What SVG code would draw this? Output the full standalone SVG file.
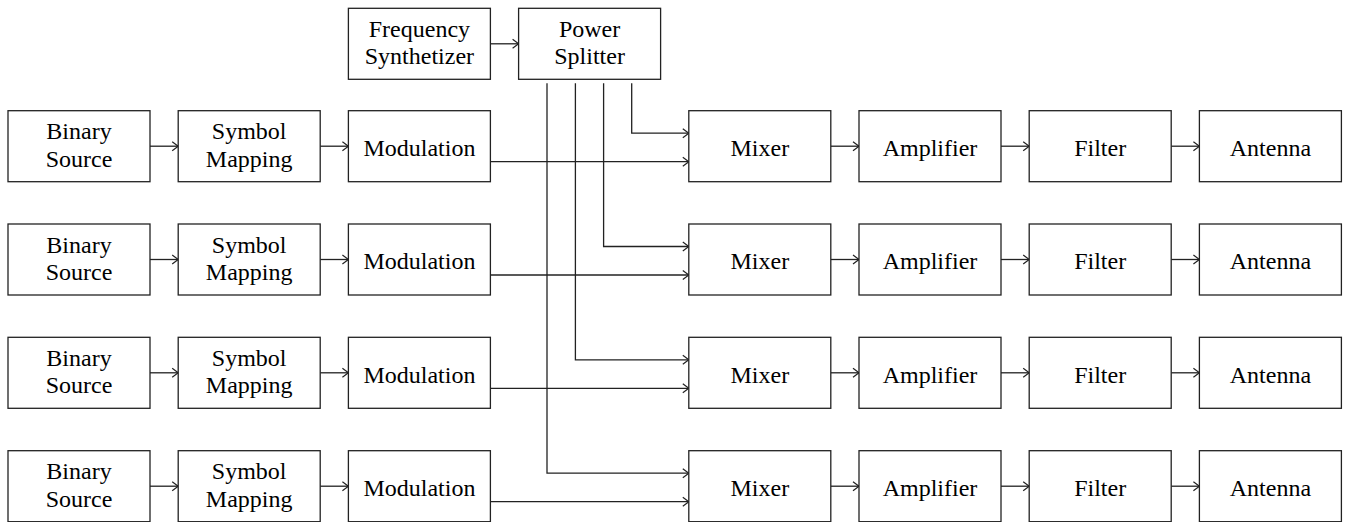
<svg xmlns="http://www.w3.org/2000/svg" width="1349" height="522" viewBox="0 0 1349 522">
<style>
.box{fill:#fff;stroke:#222;stroke-width:1.3}
.lbl{font-family:"Liberation Serif","Times New Roman",serif;font-size:24px;fill:#000;text-anchor:middle}
.c{fill:none;stroke:#222;stroke-width:1.3;marker-end:url(#ah)}
</style>
<defs>
<marker id="ah" markerUnits="userSpaceOnUse" markerWidth="12" markerHeight="12" viewBox="-7 -6 8 12" refX="0" refY="0" orient="auto">
<path d="M-6,-4.5 L0,0 L-6,4.5" fill="none" stroke="#222" stroke-width="1.2"/>
</marker>
</defs>
<rect width="1349" height="522" fill="#fff"/>
<g id="connectors">
<path class="c" d="M490.4,43.8 H518.6"/>
<path class="c" d="M150,146.2 H178.2"/><path class="c" d="M320.2,146.2 H348.4"/><path class="c" d="M490.4,161.7 H688.8"/><path class="c" d="M830.8,146.2 H859"/><path class="c" d="M1001,146.2 H1029.2"/><path class="c" d="M1171.2,146.2 H1199.4"/>
<path class="c" d="M150,259.5 H178.2"/><path class="c" d="M320.2,259.5 H348.4"/><path class="c" d="M490.4,275 H688.8"/><path class="c" d="M830.8,259.5 H859"/><path class="c" d="M1001,259.5 H1029.2"/><path class="c" d="M1171.2,259.5 H1199.4"/>
<path class="c" d="M150,372.8 H178.2"/><path class="c" d="M320.2,372.8 H348.4"/><path class="c" d="M490.4,388.3 H688.8"/><path class="c" d="M830.8,372.8 H859"/><path class="c" d="M1001,372.8 H1029.2"/><path class="c" d="M1171.2,372.8 H1199.4"/>
<path class="c" d="M150,486.2 H178.2"/><path class="c" d="M320.2,486.2 H348.4"/><path class="c" d="M490.4,501.7 H688.8"/><path class="c" d="M830.8,486.2 H859"/><path class="c" d="M1001,486.2 H1029.2"/><path class="c" d="M1171.2,486.2 H1199.4"/>
<path class="c" d="M631.7,83.3 V133.2 H688.8"/>
<path class="c" d="M603.6,83.3 V246.5 H688.8"/>
<path class="c" d="M575.4,83.3 V359.8 H688.8"/>
<path class="c" d="M547,83.3 V473.2 H688.8"/>
</g>
<g id="freq"><rect class="box" x="348.4" y="8.3" width="142" height="71"/><text class="lbl" x="419.4" y="36.9">Frequency</text><text class="lbl" x="419.4" y="64.3">Synthetizer</text></g>
<g id="splitter"><rect class="box" x="518.6" y="8.3" width="142" height="71"/><text class="lbl" x="589.6" y="36.9">Power</text><text class="lbl" x="589.6" y="64.3">Splitter</text></g>
<g id="bin1"><rect class="box" x="8" y="110.7" width="142" height="71"/><text class="lbl" x="79" y="139.3">Binary</text><text class="lbl" x="79" y="166.7">Source</text></g>
<g id="sym1"><rect class="box" x="178.2" y="110.7" width="142" height="71"/><text class="lbl" x="249.2" y="139.3">Symbol</text><text class="lbl" x="249.2" y="166.7">Mapping</text></g>
<g id="mod1"><rect class="box" x="348.4" y="110.7" width="142" height="71"/><text class="lbl" x="419.4" y="156">Modulation</text></g>
<g id="mix1"><rect class="box" x="688.8" y="110.7" width="142" height="71"/><text class="lbl" x="759.8" y="156">Mixer</text></g>
<g id="amp1"><rect class="box" x="859" y="110.7" width="142" height="71"/><text class="lbl" x="930" y="156">Amplifier</text></g>
<g id="fil1"><rect class="box" x="1029.2" y="110.7" width="142" height="71"/><text class="lbl" x="1100.2" y="156">Filter</text></g>
<g id="ant1"><rect class="box" x="1199.4" y="110.7" width="142" height="71"/><text class="lbl" x="1270.4" y="156">Antenna</text></g>
<g id="bin2"><rect class="box" x="8" y="224" width="142" height="71"/><text class="lbl" x="79" y="252.6">Binary</text><text class="lbl" x="79" y="280">Source</text></g>
<g id="sym2"><rect class="box" x="178.2" y="224" width="142" height="71"/><text class="lbl" x="249.2" y="252.6">Symbol</text><text class="lbl" x="249.2" y="280">Mapping</text></g>
<g id="mod2"><rect class="box" x="348.4" y="224" width="142" height="71"/><text class="lbl" x="419.4" y="269.3">Modulation</text></g>
<g id="mix2"><rect class="box" x="688.8" y="224" width="142" height="71"/><text class="lbl" x="759.8" y="269.3">Mixer</text></g>
<g id="amp2"><rect class="box" x="859" y="224" width="142" height="71"/><text class="lbl" x="930" y="269.3">Amplifier</text></g>
<g id="fil2"><rect class="box" x="1029.2" y="224" width="142" height="71"/><text class="lbl" x="1100.2" y="269.3">Filter</text></g>
<g id="ant2"><rect class="box" x="1199.4" y="224" width="142" height="71"/><text class="lbl" x="1270.4" y="269.3">Antenna</text></g>
<g id="bin3"><rect class="box" x="8" y="337.3" width="142" height="71"/><text class="lbl" x="79" y="365.9">Binary</text><text class="lbl" x="79" y="393.3">Source</text></g>
<g id="sym3"><rect class="box" x="178.2" y="337.3" width="142" height="71"/><text class="lbl" x="249.2" y="365.9">Symbol</text><text class="lbl" x="249.2" y="393.3">Mapping</text></g>
<g id="mod3"><rect class="box" x="348.4" y="337.3" width="142" height="71"/><text class="lbl" x="419.4" y="382.6">Modulation</text></g>
<g id="mix3"><rect class="box" x="688.8" y="337.3" width="142" height="71"/><text class="lbl" x="759.8" y="382.6">Mixer</text></g>
<g id="amp3"><rect class="box" x="859" y="337.3" width="142" height="71"/><text class="lbl" x="930" y="382.6">Amplifier</text></g>
<g id="fil3"><rect class="box" x="1029.2" y="337.3" width="142" height="71"/><text class="lbl" x="1100.2" y="382.6">Filter</text></g>
<g id="ant3"><rect class="box" x="1199.4" y="337.3" width="142" height="71"/><text class="lbl" x="1270.4" y="382.6">Antenna</text></g>
<g id="bin4"><rect class="box" x="8" y="450.7" width="142" height="71"/><text class="lbl" x="79" y="479.3">Binary</text><text class="lbl" x="79" y="506.7">Source</text></g>
<g id="sym4"><rect class="box" x="178.2" y="450.7" width="142" height="71"/><text class="lbl" x="249.2" y="479.3">Symbol</text><text class="lbl" x="249.2" y="506.7">Mapping</text></g>
<g id="mod4"><rect class="box" x="348.4" y="450.7" width="142" height="71"/><text class="lbl" x="419.4" y="496">Modulation</text></g>
<g id="mix4"><rect class="box" x="688.8" y="450.7" width="142" height="71"/><text class="lbl" x="759.8" y="496">Mixer</text></g>
<g id="amp4"><rect class="box" x="859" y="450.7" width="142" height="71"/><text class="lbl" x="930" y="496">Amplifier</text></g>
<g id="fil4"><rect class="box" x="1029.2" y="450.7" width="142" height="71"/><text class="lbl" x="1100.2" y="496">Filter</text></g>
<g id="ant4"><rect class="box" x="1199.4" y="450.7" width="142" height="71"/><text class="lbl" x="1270.4" y="496">Antenna</text></g>
</svg>
